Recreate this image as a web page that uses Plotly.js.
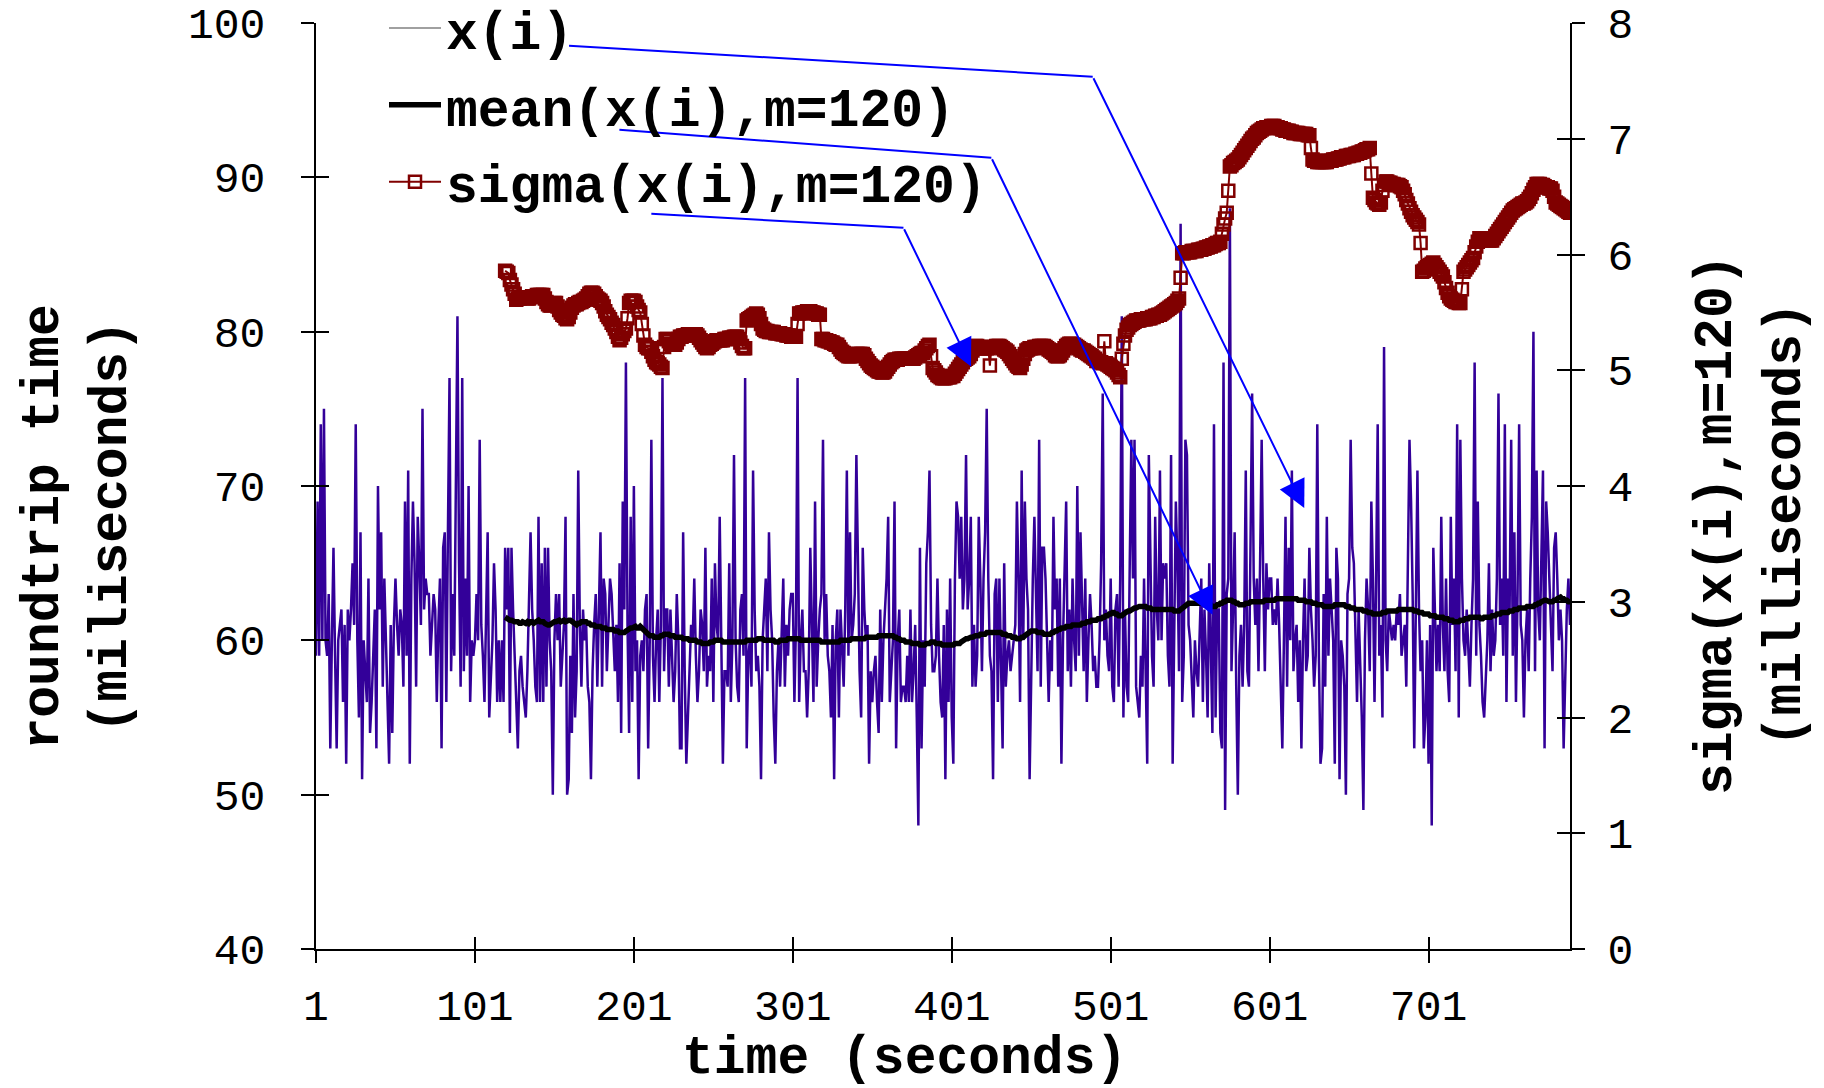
<!DOCTYPE html>
<html>
<head>
<meta charset="utf-8">
<script src="https://cdn.plot.ly/plotly-3.0.1.min.js"></script>
<style>
html,body{margin:0;padding:0;background:#ffffff;}
#chart{width:1824px;height:1088px;}
</style>
</head>
<body>
<div id="chart"></div>
<script>
// ---------------- DATA ----------------
const xTickValues = [1, 101, 201, 301, 401, 501, 601, 701];
const xTickLabels = ['1', '101', '201', '301', '401', '501', '601', '701'];
const leftTickValues = [40, 50, 60, 70, 80, 90, 100];
const rightTickValues = [0, 1, 2, 3, 4, 5, 6, 7, 8];

const seriesNames = ['x(i)', 'mean(x(i),m=120)', 'sigma(x(i),m=120)'];
const axisTitles = ['time (seconds)', 'roundtrip time<br>(miliseconds)', 'sigma(x(i),m=120)<br>(milliseconds)'];

// roundtrip time x(i), one value per second, i = 1 .. 790
const roundtrip = [
59,69,59,74,60,75,60,59,63,53,60,
66,59,53,60,61,62,56,61,52,62,
60,62,65,61,74,60,55,67,51,60,58,
56,64,54,56,59,62,53,70,62,67,
57,64,60,56,52,61,54,61,64,61,59,
62,61,57,69,59,71,52,64,69,65,
57,68,65,61,75,62,64,63,63,59,61,
63,62,56,61,64,53,66,67,56,67,
77,58,63,59,69,81,65,57,77,58,
64,59,70,56,60,59,60,63,60,73,61,
59,56,62,67,55,58,60,65,62,56,
60,56,60,56,66,62,66,54,66,62,59,
57,53,58,59,57,56,55,58,63,67,62,
60,57,56,68,56,65,56,66,57,66,60,
58,50,60,63,60,63,57,59,61,68,
50,51,59,54,63,55,58,71,61,57,62,
60,61,57,56,51,58,61,63,57,62,
67,57,64,63,58,61,64,63,60,58,61,
56,65,54,69,62,78,61,54,68,56,
70,58,60,51,59,
60,58,62,
63,53,60,73,59,
56,60,62,56,61,
77,58,62,62,57,
62,59,56,58,63,
60,53,53,67,58,
52,55,58,61,60,
64,59,56,58,62,
61,58,66,57,59,
58,64,56,65,61,
60,68,60,52,58,
58,57,65,56,60,
72,60,57,56,62,
63,59,77,53,59,
60,57,71,62,58,
59,57,51,60,62,
64,58,67,62,60,
55,52,58,60,57,
61,64,57,61,59,
62,63,63,56,61,
77,56,60,62,58,
58,55,58,66,60,
56,69,57,60,62,
63,73,60,63,59,
58,55,61,51,60,
62,55,62,59,57,
62,71,59,67,60,
61,63,72,65,58,
55,66,62,60,61,
52,58,56,58,59,
56,54,62,56,60,
62,64,68,56,58,
60,69,53,60,62,
56,57,57,56,59,
56,62,56,58,61,
55,48,66,53,60,
57,65,67,71,
61,58,58,59,
64,59,56,55,
61,51,62,56,
64,55,52,64,
69,68,64,
68,62,64,72,62,64,68,57,61,57,59,68,64,58,
64,67,75,64,59,58,51,63,64,56,64,58,53,65,57,59,60,58,
59,60,61,69,64,56,71,60,69,64,62,51,58,64,68,62,58,73,57,66,66,
64,59,56,60,58,68,62,64,57,64,52,60,64,69,58,62,57,64,60,58,70,59,
67,62,58,64,56,60,63,61,58,59,57,57,60,65,76,60,62,59,58,64,57,56,62,
63,57,64,81,55,62,57,56,65,73,64,73,57,56,55,59,57,64,57,52,
72,64,59,57,68,62,60,71,60,65,64,65,59,57,72,52,62,69,65,58,87,56,
59,73,72,61,60,57,55,60,58,57,60,64,56,62,59,55,65,58,54,74,55,62,62,
54,53,78,49,63,64,88,58,62,67,57,50,59,61,57,61,71,58,57,69,
76,64,61,64,58,65,73,64,58,65,62,64,64,61,62,61,64,61,
57,53,60,68,57,66,60,71,58,60,
61,56,60,53,60,64,58,59,66,62,
60,57,59,74,59,52,53,63,57,68,
59,64,62,60,52,66,64,51,60,59,57,
50,63,64,73,66,65,61,56,62,59,55,
49,60,64,62,58,69,64,56,64,74,59,
61,55,79,60,58,62,61,60,61,60,
62,61,63,59,60,61,57,64,73,69,63,
53,61,71,62,58,60,53,55,60,52,61,
48,66,62,58,61,58,68,61,
58,64,58,56,68,61,64,58,74,55,
73,64,60,59,62,59,57,61,64,78,
59,69,61,59,56,55,58,60,65,58,
62,59,60,64,76,61,64,59,74,56,
64,62,73,59,67,56,63,74,61,60,
55,60,62,58,64,68,80,58,71,62,
60,65,71,53,69,67,64,61,58,66,
67,64,60,62,60,53,58,62,64,61
];

// moving window results start at i = 120
const firstWindowIndex = 120;

// mean(x(i), m=120), i = 120 .. 790
const meanValues = [
61.5,61.4,61.4,61.3,61.3,61.2,61.2,61.2,61.2,61.1,
61.1,61.2,61.1,61.1,61.2,61.1,61.2,61.2,61.1,61.2,
61.2,61.3,61.2,61.2,61.2,61.1,61.0,61.0,61.0,61.1,
61.1,61.2,61.2,61.3,61.3,61.2,61.3,61.3,61.2,61.3,
61.3,61.3,61.2,61.1,61.0,61.0,61.1,61.1,61.2,61.2,
61.2,61.2,61.1,61.1,61.0,61.0,61.0,60.9,60.9,60.9,
60.9,60.8,60.8,60.8,60.7,60.7,60.7,60.7,60.7,60.6,
60.6,60.6,60.5,60.5,60.5,60.5,60.6,60.7,60.8,60.8,
60.8,60.9,60.9,60.8,60.8,60.9,60.8,60.6,60.5,60.4,
60.4,60.3,60.3,60.3,60.2,60.2,60.2,60.2,60.3,60.3,
60.4,60.4,60.4,60.4,60.3,60.3,60.3,60.2,60.2,60.2,
60.2,60.2,60.1,60.1,60.1,60.1,60.0,60.0,60.0,60.0,
60.0,59.9,59.9,59.9,59.8,59.8,59.8,59.8,59.8,59.9,
59.9,59.9,60.0,60.0,60.0,60.0,60.0,59.9,59.9,59.9,
59.9,59.9,59.9,59.9,59.9,59.9,59.9,59.9,59.9,59.9,
59.9,59.9,60.0,60.0,60.0,60.0,60.0,60.0,60.0,60.1,
60.1,60.1,60.1,60.0,60.0,60.0,60.0,60.0,60.0,60.0,
59.9,59.9,59.9,60.0,60.0,60.0,60.0,60.0,60.1,60.1,
60.1,60.1,60.1,60.1,60.1,60.1,60.0,60.0,60.0,60.0,
60.0,60.0,60.0,60.0,60.0,60.0,60.0,60.0,60.0,59.9,
59.9,59.9,59.9,59.9,59.9,59.9,59.9,59.9,59.9,59.9,
59.9,60.0,60.0,60.0,60.0,60.0,60.0,60.0,60.1,60.1,
60.1,60.1,60.1,60.1,60.1,60.1,60.1,60.2,60.2,60.2,
60.2,60.2,60.2,60.2,60.2,60.3,60.3,60.3,60.3,60.3,
60.3,60.3,60.3,60.3,60.3,60.2,60.2,60.1,60.1,60.0,
60.0,60.0,59.9,59.9,59.9,59.9,59.8,59.8,59.8,59.8,
59.8,59.7,59.7,59.7,59.7,59.8,59.8,59.8,59.9,59.9,
59.9,59.8,59.8,59.8,59.8,59.7,59.7,59.7,59.7,59.7,
59.7,59.7,59.7,59.8,59.8,59.8,59.8,59.9,60.0,60.0,
60.1,60.1,60.2,60.2,60.2,60.3,60.3,60.3,60.3,60.4,
60.4,60.4,60.4,60.5,60.5,60.5,60.5,60.5,60.5,60.5,
60.5,60.5,60.5,60.4,60.4,60.4,60.3,60.3,60.3,60.2,
60.2,60.2,60.1,60.1,60.1,60.2,60.2,60.3,60.4,60.5,
60.5,60.6,60.6,60.6,60.6,60.5,60.5,60.5,60.5,60.4,
60.4,60.4,60.4,60.4,60.5,60.5,60.6,60.6,60.7,60.7,
60.8,60.8,60.8,60.9,60.9,60.9,60.9,61.0,61.0,61.0,
61.0,61.0,61.0,61.1,61.1,61.1,61.2,61.2,61.2,61.3,
61.3,61.3,61.3,61.4,61.4,61.4,61.5,61.5,61.6,61.6,
61.7,61.7,61.8,61.8,61.7,61.7,61.6,61.6,61.6,61.7,
61.8,61.8,61.9,61.9,62.0,62.1,62.1,62.1,62.2,62.2,
62.2,62.2,62.2,62.2,62.1,62.1,62.1,62.0,62.0,62.0,
62.0,62.0,62.0,62.0,62.0,62.0,62.0,62.0,62.0,62.0,
62.0,61.9,61.9,61.9,61.9,62.0,62.1,62.2,62.3,62.3,
62.4,62.4,62.4,62.4,62.4,62.4,62.4,62.4,62.4,62.4,
62.3,62.3,62.3,62.3,62.3,62.2,62.2,62.2,62.3,62.3,
62.4,62.4,62.5,62.5,62.6,62.6,62.6,62.6,62.5,62.5,
62.4,62.4,62.3,62.3,62.3,62.3,62.4,62.4,62.4,62.5,
62.5,62.5,62.5,62.5,62.5,62.5,62.5,62.5,62.6,62.6,
62.6,62.6,62.6,62.6,62.6,62.7,62.7,62.7,62.7,62.7,
62.7,62.7,62.7,62.7,62.7,62.7,62.7,62.7,62.7,62.6,
62.6,62.6,62.6,62.6,62.5,62.5,62.5,62.5,62.4,62.4,
62.4,62.3,62.3,62.3,62.3,62.2,62.2,62.2,62.2,62.2,
62.2,62.2,62.3,62.3,62.3,62.3,62.3,62.3,62.3,62.2,
62.2,62.2,62.1,62.1,62.1,62.0,62.0,62.0,62.0,62.0,
61.9,61.9,61.9,61.8,61.8,61.8,61.7,61.7,61.7,61.7,
61.7,61.7,61.8,61.8,61.8,61.9,61.9,61.9,61.9,61.9,
61.9,61.9,62.0,62.0,62.0,62.0,62.0,62.0,62.0,62.0,
62.0,62.0,61.9,61.9,61.9,61.8,61.8,61.8,61.7,61.7,
61.7,61.7,61.6,61.6,61.6,61.6,61.5,61.5,61.5,61.5,
61.5,61.4,61.4,61.4,61.3,61.3,61.3,61.2,61.2,61.2,
61.2,61.3,61.3,61.3,61.4,61.4,61.4,61.5,61.5,61.5,
61.5,61.5,61.5,61.5,61.4,61.4,61.5,61.5,61.5,61.5,
61.5,61.6,61.6,61.6,61.7,61.7,61.7,61.8,61.8,61.8,
61.8,61.8,61.9,61.9,61.9,62.0,62.0,62.0,62.1,62.1,
62.1,62.1,62.1,62.2,62.2,62.2,62.2,62.2,62.3,62.3,
62.4,62.4,62.5,62.6,62.6,62.6,62.5,62.5,62.5,62.5,
62.6,62.6,62.7,62.8,62.8,62.7,62.7,62.6,62.6,62.5,
62.5
];

// sigma(x(i), m=120), i = 120 .. 790 (right axis)
const sigmaValues = [
5.86,5.85,5.84,5.78,5.74,5.70,5.66,5.61,5.62,5.62,
5.63,5.63,5.63,5.63,5.62,5.62,5.63,5.64,5.64,5.64,
5.65,5.65,5.65,5.65,5.65,5.62,5.59,5.57,5.56,5.56,
5.57,5.58,5.58,5.55,5.52,5.50,5.48,5.47,5.45,5.44,
5.46,5.50,5.54,5.56,5.57,5.57,5.58,5.59,5.59,5.60,
5.61,5.62,5.64,5.66,5.67,5.67,5.66,5.64,5.62,5.61,
5.60,5.58,5.55,5.51,5.48,5.46,5.44,5.41,5.39,5.36,
5.33,5.29,5.26,5.28,5.31,5.34,5.36,5.45,5.58,5.60,
5.60,5.60,5.59,5.55,5.52,5.50,5.40,5.30,5.22,5.20,
5.19,5.19,5.16,5.12,5.09,5.07,5.06,5.05,5.03,5.02,
5.20,5.27,5.27,5.25,5.23,5.22,5.22,5.22,5.24,5.27,
5.29,5.29,5.30,5.30,5.30,5.31,5.31,5.31,5.31,5.31,
5.31,5.30,5.28,5.26,5.24,5.22,5.20,5.19,5.20,5.22,
5.23,5.24,5.25,5.26,5.26,5.26,5.26,5.26,5.27,5.27,
5.27,5.28,5.28,5.28,5.29,5.29,5.29,5.27,5.24,5.21,
5.19,5.19,5.43,5.44,5.45,5.46,5.47,5.48,5.49,5.48,
5.45,5.40,5.36,5.35,5.34,5.34,5.33,5.33,5.33,5.33,
5.32,5.32,5.32,5.32,5.31,5.31,5.31,5.30,5.30,5.30,
5.29,5.29,5.29,5.29,5.40,5.49,5.49,5.50,5.50,5.50,
5.51,5.51,5.51,5.50,5.50,5.49,5.49,5.48,5.48,5.27,
5.27,5.26,5.26,5.25,5.25,5.24,5.24,5.23,5.22,5.22,
5.20,5.18,5.16,5.15,5.14,5.13,5.12,5.12,5.12,5.13,
5.13,5.14,5.14,5.14,5.14,5.14,5.13,5.10,5.08,5.06,
5.04,5.03,5.02,5.01,5.00,4.99,4.99,4.98,4.98,4.99,
5.01,5.03,5.05,5.07,5.08,5.09,5.09,5.09,5.10,5.10,
5.10,5.10,5.10,5.10,5.10,5.10,5.10,5.10,5.11,5.12,
5.13,5.14,5.15,5.15,5.17,5.19,5.21,5.22,5.12,5.02,
5.00,4.98,4.96,4.95,4.94,4.93,4.93,4.93,4.94,4.94,
4.94,4.95,4.95,4.97,4.99,5.01,5.03,5.05,5.07,5.09,
5.10,5.11,5.12,5.14,5.17,5.19,5.21,5.21,5.20,5.20,
5.19,5.19,5.19,5.19,5.19,5.04,5.20,5.20,5.20,5.21,
5.21,5.21,5.20,5.19,5.18,5.17,5.16,5.14,5.12,5.10,
5.08,5.06,5.04,5.03,5.02,5.05,5.10,5.14,5.17,5.18,
5.19,5.19,5.19,5.20,5.20,5.20,5.21,5.21,5.21,5.21,
5.20,5.19,5.18,5.17,5.16,5.15,5.13,5.12,5.12,5.13,
5.15,5.17,5.19,5.21,5.22,5.23,5.23,5.22,5.22,5.21,
5.20,5.19,5.18,5.17,5.17,5.16,5.15,5.14,5.13,5.12,
5.11,5.10,5.08,5.08,5.07,5.07,5.06,5.25,5.06,5.05,
5.04,5.03,5.02,5.01,5.00,4.98,4.96,4.94,5.10,5.23,
5.30,5.35,5.37,5.39,5.40,5.41,5.42,5.43,5.43,5.43,
5.44,5.44,5.44,5.44,5.45,5.45,5.45,5.46,5.46,5.47,
5.47,5.48,5.48,5.49,5.50,5.51,5.52,5.53,5.54,5.55,
5.56,5.57,5.58,5.60,5.62,5.80,6.01,6.01,6.02,6.02,
6.02,6.02,6.03,6.03,6.03,6.03,6.04,6.04,6.04,6.05,
6.05,6.06,6.06,6.07,6.07,6.08,6.08,6.09,6.10,6.10,
6.11,6.18,6.26,6.31,6.36,6.55,6.76,6.77,6.79,6.80,
6.81,6.82,6.84,6.86,6.88,6.90,6.92,6.94,6.96,6.98,
7.00,7.01,7.03,7.05,7.06,7.07,7.08,7.09,7.09,7.10,
7.10,7.10,7.11,7.11,7.11,7.10,7.10,7.09,7.09,7.08,
7.08,7.07,7.07,7.07,7.06,7.06,7.05,7.05,7.05,7.05,
7.04,7.04,7.04,7.04,7.04,7.03,7.03,6.92,6.82,6.81,
6.81,6.80,6.80,6.80,6.80,6.80,6.80,6.80,6.81,6.81,
6.81,6.82,6.82,6.82,6.83,6.83,6.84,6.84,6.84,6.85,
6.85,6.85,6.86,6.86,6.86,6.87,6.87,6.88,6.88,6.89,
6.89,6.90,6.91,6.91,6.92,6.70,6.49,6.47,6.45,6.44,
6.43,6.45,6.55,6.60,6.63,6.63,6.62,6.62,6.61,6.61,
6.60,6.60,6.60,6.59,6.58,6.55,6.52,6.47,6.44,6.40,
6.37,6.34,6.32,6.30,6.28,6.26,6.10,5.85,5.86,5.88,
5.89,5.90,5.91,5.92,5.93,5.91,5.89,5.87,5.85,5.83,
5.81,5.76,5.71,5.67,5.64,5.62,5.61,5.60,5.59,5.59,
5.58,5.58,5.70,5.85,5.87,5.89,5.91,5.93,5.95,5.97,
6.02,6.07,6.11,6.14,6.14,6.14,6.13,6.13,6.13,6.12,
6.12,6.12,6.14,6.16,6.18,6.20,6.22,6.24,6.26,6.28,
6.30,6.32,6.34,6.36,6.38,6.39,6.40,6.41,6.42,6.43,
6.44,6.44,6.45,6.46,6.48,6.50,6.53,6.56,6.58,6.61,
6.61,6.61,6.60,6.60,6.59,6.58,6.58,6.57,6.57,6.55,
6.50,6.45,6.44,6.43,6.42,6.41,6.40,6.39,6.38,6.37,
6.36
];

// ---------------- CHART ----------------
const timeIndex = roundtrip.map((_, k) => k + 1);
const windowIndex = meanValues.map((_, k) => k + firstWindowIndex);
const lastIndex = roundtrip.length;

// pixel frame of the plotting area inside the 1824x1088 page
const plotL = 316, plotR = 1570, plotT = 23, plotB = 949;
const px = X => (X - plotL) / (plotR - plotL);
const py = Y => (plotB - Y) / (plotB - plotT);

const titleFont = {family: 'Liberation Mono, Courier New, monospace', size: 53, color: '#000000', weight: 'bold'};
const tickFont = {family: 'Liberation Mono, Courier New, monospace', size: 43, color: '#000000'};

const traces = [
  {
    x: timeIndex, y: roundtrip, type: 'scatter', mode: 'lines',
    name: seriesNames[0], showlegend: false,
    line: {color: '#330099', width: 2.5}, xaxis: 'x', yaxis: 'y'
  },
  {
    x: [null], y: [null], type: 'scatter', mode: 'lines',
    name: seriesNames[0], legendgroup: 'g1', legendrank: 1,
    line: {color: '#a0a0a0', width: 2}, xaxis: 'x', yaxis: 'y'
  },
  {
    x: windowIndex, y: meanValues, type: 'scatter', mode: 'lines',
    name: seriesNames[1], legendgroup: 'g2', legendrank: 2,
    line: {color: '#000000', width: 5.5}, xaxis: 'x', yaxis: 'y'
  },
  {
    x: windowIndex, y: sigmaValues, type: 'scatter', mode: 'lines+markers',
    name: seriesNames[2], legendgroup: 'g3', legendrank: 3,
    line: {color: '#800000', width: 2},
    marker: {symbol: 'square-open', size: 12, color: '#800000', line: {color: '#800000', width: 2.5}},
    xaxis: 'x', yaxis: 'y2'
  },
  // carriers for the inner halves of the crossing tick marks
  {x: [null], y: [null], type: 'scatter', mode: 'lines', showlegend: false, hoverinfo: 'skip', xaxis: 'x2', yaxis: 'y3'},
  {x: [null], y: [null], type: 'scatter', mode: 'lines', showlegend: false, hoverinfo: 'skip', xaxis: 'x2', yaxis: 'y4'}
];

const baseAxis = {
  showgrid: false, zeroline: false, showline: true, linecolor: '#000000', linewidth: 2,
  ticks: 'outside', ticklen: 13, tickwidth: 2, tickcolor: '#000000', tickfont: tickFont,
  fixedrange: true
};
const innerAxis = {
  showgrid: false, zeroline: false, showline: false, showticklabels: false,
  ticks: 'inside', ticklen: 13, tickwidth: 2, tickcolor: '#000000', fixedrange: true
};

// leader lines (legend text -> bend) and arrows (bend -> series), in data units
const leaders = [
  {sx: 160.2, sy: 98.53, cx: 489.7, cy: 96.52, tx: 622.8, ty: 68.57},
  {sx: 191.9, sy: 93.08, cx: 425.9, cy: 91.27, tx: 565.1, ty: 61.65},
  {sx: 212.0, sy: 87.64, cx: 370.6, cy: 86.73, tx: 413.1, ty: 77.74}
];

const shapes = leaders.map(a => ({
  type: 'line', xref: 'x', yref: 'y', x0: a.sx, y0: a.sy, x1: a.cx, y1: a.cy,
  line: {color: '#0000ff', width: 2}, layer: 'above'
}));

const arrowAnnotations = leaders.map(a => ({
  xref: 'x', yref: 'y', axref: 'x', ayref: 'y',
  x: a.tx, y: a.ty, ax: a.cx, ay: a.cy,
  text: '', showarrow: true, arrowhead: 2, arrowsize: 2.75, arrowwidth: 2,
  arrowcolor: '#0000ff', standoff: 0, startstandoff: 0, font: {size: 1}
}));

const titleAnnotations = [
  {text: axisTitles[0], xref: 'paper', yref: 'paper', x: px(904), y: py(1059),
   xanchor: 'center', yanchor: 'middle', showarrow: false, font: titleFont},
  {text: axisTitles[1], xref: 'paper', yref: 'paper', x: px(77.5), y: py(527),
   xanchor: 'center', yanchor: 'middle', showarrow: false, textangle: -90, font: titleFont},
  {text: axisTitles[2], xref: 'paper', yref: 'paper', x: px(1751), y: py(525),
   xanchor: 'center', yanchor: 'middle', showarrow: false, textangle: -90, font: titleFont}
];

const layout = {
  width: 1824, height: 1088, autosize: false,
  margin: {l: plotL, r: 1824 - plotR, t: plotT, b: 1088 - plotB, pad: 0, autoexpand: false},
  paper_bgcolor: '#ffffff', plot_bgcolor: '#ffffff',
  font: {family: 'Liberation Mono, Courier New, monospace', color: '#000000'},
  showlegend: true,
  legend: {
    x: px(384), y: py(-13), xanchor: 'left', yanchor: 'top',
    bgcolor: 'rgba(0,0,0,0)', borderwidth: 0,
    font: titleFont, itemwidth: 52, tracegroupgap: 5, traceorder: 'grouped'
  },
  xaxis: Object.assign({}, baseAxis, {
    range: [1, lastIndex], tickmode: 'array', tickvals: xTickValues, ticktext: xTickLabels,
    ticklen: 12, ticklabelstandoff: 5, anchor: 'y'
  }),
  xaxis2: Object.assign({}, innerAxis, {
    overlaying: 'x', anchor: 'y', side: 'bottom', range: [1, lastIndex],
    tickmode: 'array', tickvals: xTickValues, ticklen: 12
  }),
  yaxis: Object.assign({}, baseAxis, {
    range: [40, 100], tickmode: 'array', tickvals: leftTickValues, ticklabelstandoff: 27, anchor: 'x'
  }),
  yaxis2: Object.assign({}, baseAxis, {
    range: [0, 8], tickmode: 'array', tickvals: rightTickValues, side: 'right',
    overlaying: 'y', anchor: 'x', ticklabelstandoff: 14
  }),
  yaxis3: Object.assign({}, innerAxis, {
    range: [40, 100], tickmode: 'array', tickvals: leftTickValues, side: 'left',
    overlaying: 'y', anchor: 'x'
  }),
  yaxis4: Object.assign({}, innerAxis, {
    range: [0, 8], tickmode: 'array', tickvals: rightTickValues, side: 'right',
    overlaying: 'y', anchor: 'x'
  }),
  shapes: shapes,
  annotations: titleAnnotations.concat(arrowAnnotations)
};

Plotly.newPlot('chart', traces, layout, {staticPlot: true, displayModeBar: false});
</script>
</body>
</html>
